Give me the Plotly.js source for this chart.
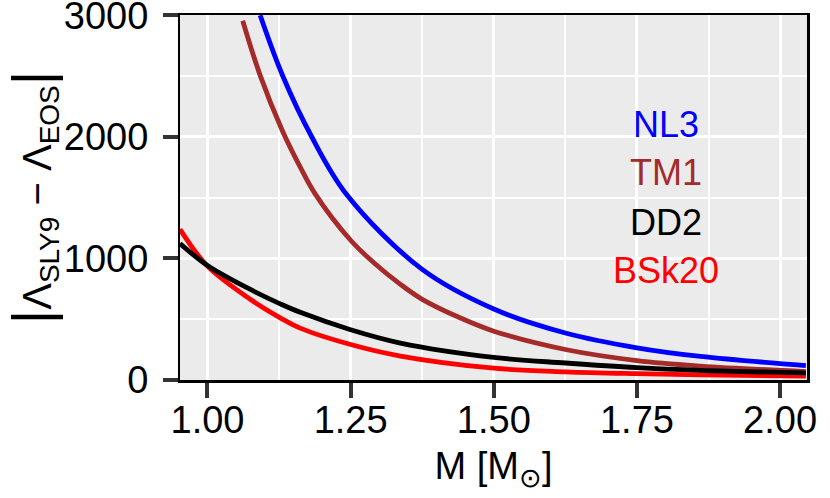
<!DOCTYPE html>
<html>
<head>
<meta charset="utf-8">
<script src="https://cdn.plot.ly/plotly-3.0.1.min.js"></script>
<style>html,body{margin:0;padding:0;background:#fff;}#chart{width:830px;height:498px;}</style>
</head>
<body>
<div id="chart"></div>
<script>
// Values
const seriesNames = ["NL3", "TM1", "BSk20", "DD2"];
const seriesColors = ["#0000FF", "#A52A2A", "#FF0000", "#000000"];

const massNL3 = [1.092, 1.1315, 1.182, 1.243, 1.375, 1.500, 1.625, 1.750, 1.861, 2.045];
const lambdaNL3 = [3000, 2500, 2000, 1525, 908, 582, 385, 263, 192, 117];

const massTM1 = [1.0615, 1.092, 1.130, 1.162, 1.188, 1.250, 1.290, 1.337, 1.375, 1.440, 1.500, 1.625, 1.750, 1.861, 2.045];
const lambdaTM1 = [2955, 2505, 2058, 1750, 1530, 1148, 965, 785, 662, 512, 400, 249, 158, 113, 67];

const massBSk20 = [0.952, 1.000, 1.074, 1.127, 1.162, 1.250, 1.337, 1.500, 1.625, 1.750, 1.861, 2.045];
const lambdaBSk20 = [1238, 935, 665, 510, 425, 290, 195, 95, 65, 50, 41, 30];

const massDD2 = [0.952, 1.000, 1.074, 1.127, 1.162, 1.250, 1.337, 1.500, 1.625, 1.750, 1.861, 2.045];
const lambdaDD2 = [1122, 940, 745, 625, 555, 412, 302, 184, 138, 100, 78, 56];

const xTickVals = [1.00, 1.25, 1.50, 1.75, 2.00];
const xTickText = ["1.00", "1.25", "1.50", "1.75", "2.00"];
const yTickVals = [0, 1000, 2000, 3000];
const yTickText = ["0", "1000", "2000", "3000"];

// In-plot series name labels (data coords)
const labelNames = ["NL3", "TM1", "DD2", "BSk20"];
const labelColors = ["#0000FF", "#A52A2A", "#000000", "#FF0000"];
const labelX = [1.80, 1.80, 1.80, 1.80];
const labelY = [2104, 1708, 1292, 903];

const xs = [massNL3, massTM1, massBSk20, massDD2];
const ys = [lambdaNL3, lambdaTM1, lambdaBSk20, lambdaDD2];

const FONT = "Liberation Sans, Arial, Helvetica, sans-serif";
const X_RANGE = [0.952, 2.047];
const Y_RANGE = [-2, 3002];

// DD2 is drawn on the overlay axes so it sits on top, as in the reference
const traces = seriesNames.map((n, i) => ({
  type: "scatter",
  mode: "lines",
  name: n,
  x: xs[i],
  y: ys[i],
  xaxis: n === "DD2" ? "x2" : "x",
  yaxis: n === "DD2" ? "y2" : "y",
  line: {color: seriesColors[i], width: 4.8, shape: "spline", smoothing: 1},
  hoverinfo: "skip"
}));

const annotations = labelNames.map((t, i) => ({
  x: labelX[i], y: labelY[i], xref: "x", yref: "y",
  text: t, showarrow: false,
  font: {family: FONT, size: 36, color: labelColors[i]},
  xanchor: "center", yanchor: "middle"
}));

const tickFont = {family: FONT, size: 38, color: "#000000"};

const layout = {
  width: 830, height: 498,
  margin: {l: 180, r: 23, t: 15, b: 118, pad: 0},
  paper_bgcolor: "#FFFFFF",
  plot_bgcolor: "#EBEBEB",
  showlegend: false,
  font: {family: FONT, color: "#000000"},
  // main axes: frame, grid and tick marks
  xaxis: {
    range: X_RANGE,
    tickmode: "array", tickvals: xTickVals, ticktext: xTickText,
    ticks: "outside", ticklen: 15, tickwidth: 4, tickcolor: "#333333",
    showticklabels: false,
    showline: true, mirror: true, linecolor: "#000000", linewidth: 2.5,
    showgrid: true, gridcolor: "#FFFFFF", gridwidth: 3,
    zeroline: false,
    minor: {dtick: 0.125, tick0: 1, showgrid: true, gridcolor: "#FFFFFF", gridwidth: 2, ticks: ""}
  },
  yaxis: {
    range: Y_RANGE,
    tickmode: "array", tickvals: yTickVals, ticktext: yTickText,
    ticks: "outside", ticklen: 15, tickwidth: 4, tickcolor: "#333333",
    showticklabels: false,
    showline: true, mirror: true, linecolor: "#000000", linewidth: 2.5,
    showgrid: true, gridcolor: "#FFFFFF", gridwidth: 3,
    zeroline: false,
    minor: {dtick: 500, tick0: 0, showgrid: true, gridcolor: "#FFFFFF", gridwidth: 2, ticks: ""}
  },
  // overlay axes: tick labels and titles
  xaxis2: {
    overlaying: "x", anchor: "y2", side: "bottom",
    range: X_RANGE,
    tickmode: "array", tickvals: xTickVals, ticktext: xTickText,
    ticks: "outside", ticklen: 6, tickwidth: 1, tickcolor: "rgba(0,0,0,0)",
    tickfont: tickFont,
    showline: false, showgrid: false, zeroline: false,
    title: {text: "M [M<sub>⊙</sub>]", font: {family: FONT, size: 38, color: "#000000"}, standoff: 12}
  },
  yaxis2: {
    overlaying: "y", anchor: "x2", side: "left",
    range: Y_RANGE,
    tickmode: "array", tickvals: yTickVals, ticktext: yTickText,
    ticks: "outside", ticklen: 23, tickwidth: 1, tickcolor: "rgba(0,0,0,0)",
    tickfont: tickFont, ticklabeloverflow: "allow",
    showline: false, showgrid: false, zeroline: false,
    title: {text: "<span style='font-size:56px'>|</span>Λ<sub>SLY9</sub> − Λ<sub>EOS</sub><span style='font-size:56px'>|</span>", font: {family: FONT, size: 40, color: "#000000"}, standoff: 2}
  },
  annotations: annotations
};

Plotly.newPlot("chart", traces, layout, {staticPlot: true, displayModeBar: false});
</script>
</body>
</html>
